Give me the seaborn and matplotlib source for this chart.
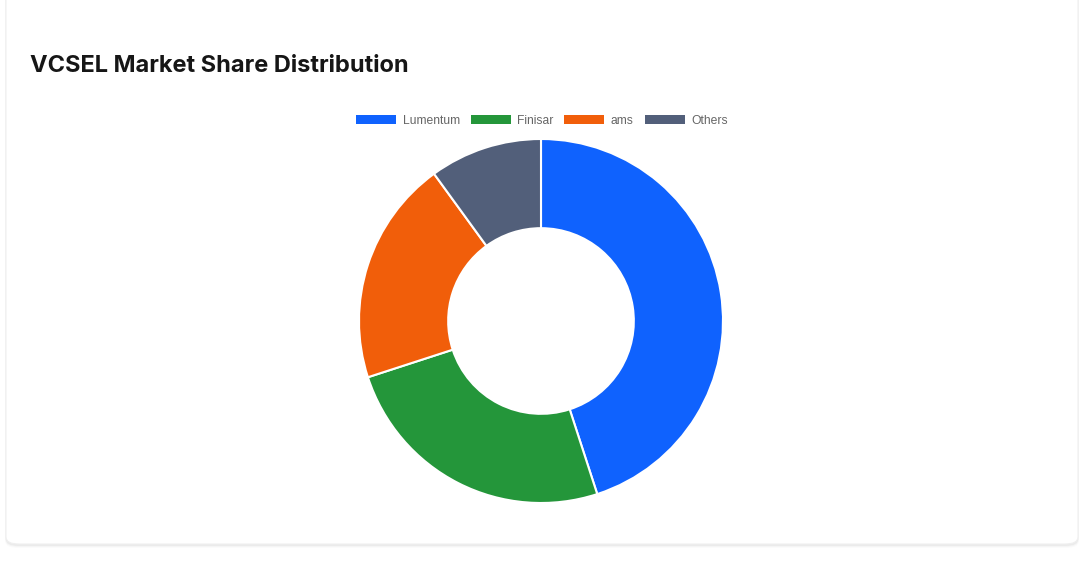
import matplotlib
matplotlib.use("Agg")
import matplotlib.pyplot as plt
from matplotlib.patches import FancyBboxPatch, Rectangle
import seaborn as sns

# chart data
companies = ["Lumentum", "Finisar", "ams", "Others"]
shares = [45, 25, 20, 10]
colors = ["#0F62FE", "#24963A", "#F15E0A", "#525F7A"]

sns.set_theme(style="white")
plt.rcParams["font.family"] = ["Inter", "DejaVu Sans"]

W, H = 1083, 568
fig = plt.figure(figsize=(W / 100, H / 100), dpi=100)
fig.patch.set_facecolor("white")

# card background with a soft shadow
for i, a in enumerate([0.015, 0.025, 0.04]):
    off = 3 - i
    fig.patches.append(FancyBboxPatch(
        ((6 - off * 0.3) / W, (568 - 545 - off) / H), (1072 + off * 0.6) / W, (560 + off) / H,
        boxstyle="round,pad=0,rounding_size=0.012", transform=fig.transFigure,
        facecolor="black", alpha=a, edgecolor="none", zorder=0))
fig.patches.append(FancyBboxPatch(
    (6 / W, (568 - 544) / H), 1072 / W, 560 / H,
    boxstyle="round,pad=0,rounding_size=0.012", transform=fig.transFigure,
    facecolor="white", edgecolor="#efefef", linewidth=0.8, zorder=1))

fig.text(30 / W, 1 - 72 / H, "VCSEL Market Share Distribution", fontsize=17,
         fontweight="bold", color="#161616", ha="left", va="baseline", zorder=3)

# donut
cx, cy, r = 541, 321, 182
ax = fig.add_axes([(cx - r) / W, (H - cy - r) / H, 2 * r / W, 2 * r / H])
ax.set_zorder(3)
ax.pie(shares, colors=colors, startangle=90, counterclock=False, radius=1,
       wedgeprops=dict(width=0.49, edgecolor="white", linewidth=1.5))
ax.set_xlim(-1, 1)
ax.set_ylim(-1, 1)
ax.set_aspect("equal")
ax.axis("off")

handles = [Rectangle((0, 0), 1, 1, facecolor=c, edgecolor="none") for c in colors]
leg = fig.legend(handles, companies, loc="center", bbox_to_anchor=(542 / W, 1 - 121 / H),
                 ncol=4, frameon=False, fontsize=8.7, handlelength=3.3, handleheight=0.8,
                 handletextpad=0.55, columnspacing=0.9, labelcolor="#666666",
                 prop={"family": ["Liberation Sans", "DejaVu Sans"], "size": 8.7})
leg.set_zorder(4)

fig.savefig("out.png", dpi=100, facecolor="white")
